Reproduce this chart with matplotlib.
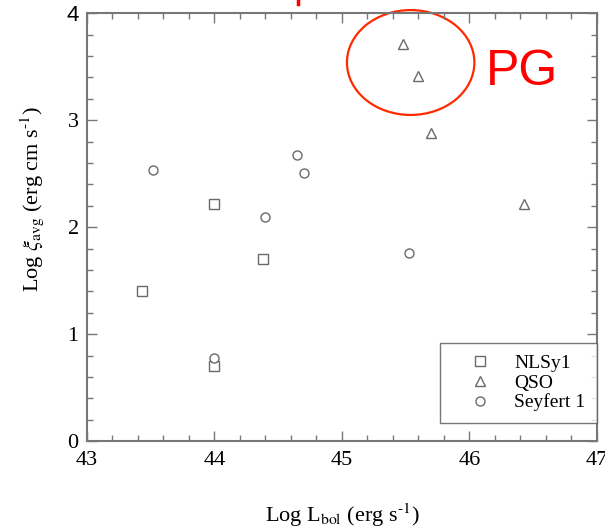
import numpy as np
import matplotlib
matplotlib.use("Agg")
import matplotlib.pyplot as plt
from matplotlib.patches import Ellipse
from matplotlib.lines import Line2D

plt.rcParams['font.family'] = ['Liberation Serif', 'DejaVu Serif']
plt.rcParams['mathtext.fontset'] = 'stix'

# data
nlsy1_lbol = [44.00, 44.38, 43.43, 44.00]
nlsy1_xi = [2.22, 1.70, 1.40, 0.70]

qso_lbol = [45.48, 45.60, 45.70, 46.43]
qso_xi = [3.71, 3.41, 2.88, 2.22]

sey1_lbol = [43.52, 44.65, 44.70, 44.40, 45.53, 44.00]
sey1_xi = [2.54, 2.68, 2.51, 2.10, 1.76, 0.78]

labels = ["NLSy1", "QSO", "Seyfert 1"]
markers = ["s", "^", "o"]
mcolor = "#6a6a6a"
axcolor = "#777777"

fig = plt.figure(figsize=(6.05, 5.30), dpi=100)
ax = fig.add_axes([0.1438, 0.1674, 0.8425, 0.8075])

series = [(nlsy1_lbol, nlsy1_xi), (qso_lbol, qso_xi), (sey1_lbol, sey1_xi)]
sizes = [7, 6.5, 6.5]
for (xs, ys), m, lab, ms in zip(series, markers, labels, sizes):
    ax.plot(xs, ys, linestyle="none", marker=m, markersize=ms,
            markerfacecolor="white", markeredgecolor=mcolor,
            markeredgewidth=1.0, label=lab)

ax.set_xlim(43, 47)
ax.set_ylim(0, 4)
ax.set_xticks(np.arange(43, 48, 1))
ax.set_yticks(np.arange(0, 5, 1))
ax.set_xticks(np.arange(43, 47.01, 0.2), minor=True)
ax.set_yticks(np.arange(0, 4.01, 0.2), minor=True)

ax.tick_params(which="both", direction="in", top=True, right=True,
               color=axcolor, width=1.0, labelsize=16)
ax.tick_params(which="major", length=7)
ax.tick_params(which="minor", length=4.5)
ax.tick_params(axis="y", pad=6)
ax.tick_params(axis="x", pad=7)
for sp in ax.spines.values():
    sp.set_color(axcolor)
    sp.set_linewidth(1.5)

# the top "4" in the source is set in a sans face
fig.canvas.draw()
for t in ax.get_yticklabels():
    if t.get_text() == "4":
        t.set_fontfamily("Liberation Sans")

ax.set_xlabel(r"Log L$_{\rm bol}$ (erg s$^{\text{-1}}$)", fontsize=16)
ax.set_ylabel(r"Log $\xi_{\rm avg}$ (erg cm s$^{\text{-1}}$)", fontsize=16)
ax.xaxis.set_label_coords(0.5, -0.14)
ax.yaxis.set_label_coords(-0.08, 0.566)

leg = ax.legend(loc="upper left", bbox_to_anchor=(0.6926, 0.2304),
                borderaxespad=0, fontsize=14, frameon=True, fancybox=False,
                handlelength=2.9, handletextpad=0.3, labelspacing=0.1,
                borderpad=0.6)
leg.get_frame().set_edgecolor("#555555")
leg.get_frame().set_linewidth(1.0)

# red annotation: circle round the PG quasars
ell = Ellipse((45.54, 3.54), 1.0, 0.98, fill=False, edgecolor="#ff2a00",
              linewidth=1.6, clip_on=False)
ax.add_patch(ell)
ax.text(46.13, 3.33, "PG", color="#ff0000", fontsize=36,
        family="Liberation Sans", ha="left", va="baseline")

# bit of cut-off red mark at the top edge
fig.add_artist(Line2D([298 / 605, 298 / 605], [1.0, 1 - 4 / 530],
                      color="#ff0000", linewidth=2.5,
                      transform=fig.transFigure))

fig.savefig("out.png", dpi=100)
